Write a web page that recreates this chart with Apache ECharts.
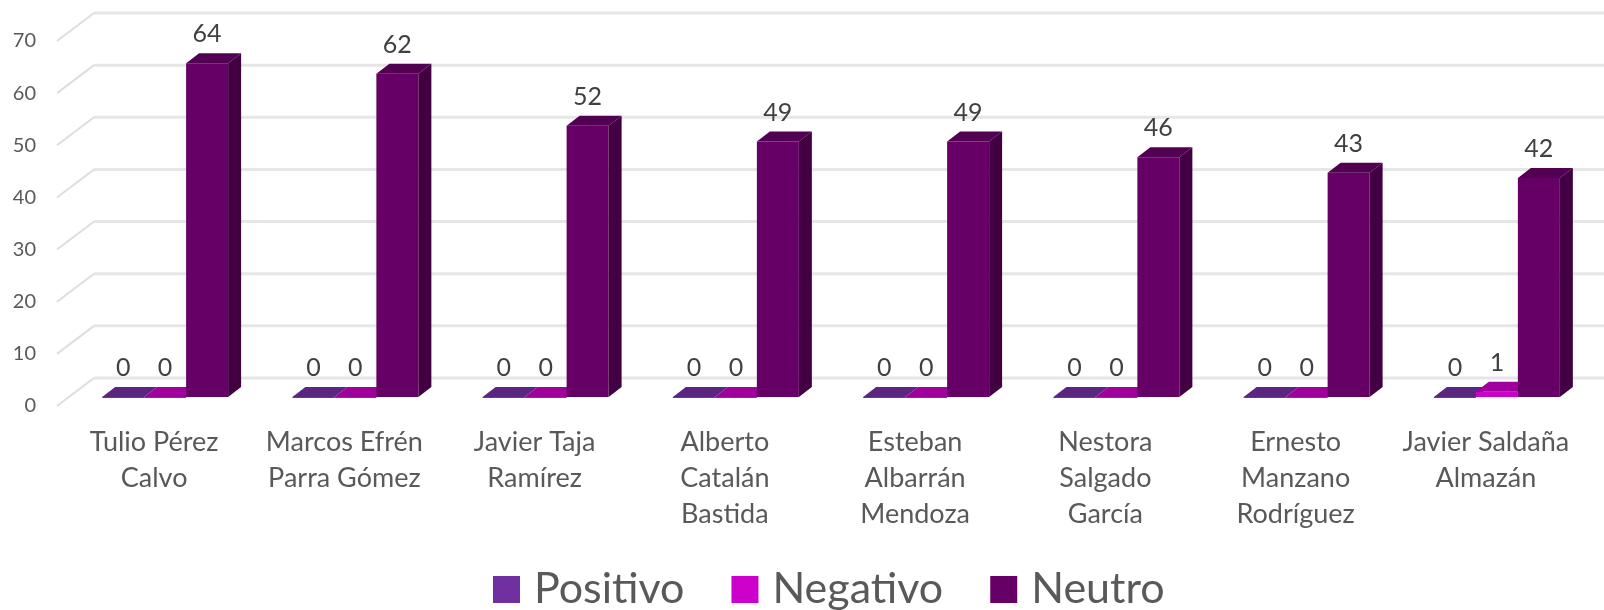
<!DOCTYPE html>
<html lang="es">
<head>
    <meta charset="UTF-8">
    <title>Positivo, Negativo, Neutro</title>
    <script src="https://cdn.jsdelivr.net/npm/echarts@6/dist/echarts.min.js"></script>
    <style>
        html, body { margin: 0; padding: 0; background: #fff; overflow: hidden; }
    </style>
</head>
<body>
<div id="box" style="width: 1604px;height: 610px;"></div>
<script>
    var categories = ['Tulio Pérez\nCalvo', 'Marcos Efrén\nParra Gómez', 'Javier Taja\nRamírez', 'Alberto\nCatalán\nBastida',
        'Esteban\nAlbarrán\nMendoza', 'Nestora\nSalgado\nGarcía', 'Ernesto\nManzano\nRodríguez', 'Javier Saldaña\nAlmazán'];
    var positivo = [0, 0, 0, 0, 0, 0, 0, 0];
    var negativo = [0, 0, 0, 0, 0, 0, 0, 1];
    var neutro = [64, 62, 52, 49, 49, 46, 43, 42];
    var yTicks = [0, 10, 20, 30, 40, 50, 60, 70];

    var fontName = 'Lato';
    var myChart = echarts.init(document.getElementById('box'));

    // fake 3D: bars stand a bit behind the axis plane, the wall further back
    var floorX = 11, floorY = -9;
    var depthX = 13, depthY = -10;
    var wallX = 37, wallY = -28;

    function wallLines(params, api) {
        var p = api.coord([0, api.value(0)]);
        var x0 = params.coordSys.x;
        return {
            type: 'group',
            children: [
                {type: 'line', shape: {x1: x0 - 2, y1: p[1], x2: x0 + wallX - 2, y2: p[1] + wallY},
                    style: {stroke: '#dedede', lineWidth: 2}},
                {type: 'line', shape: {x1: x0 + wallX - 2, y1: p[1] + wallY, x2: api.getWidth(), y2: p[1] + wallY},
                    style: {stroke: '#e6e6e6', lineWidth: 3}}
            ]
        };
    }

    function barRender(slot, colors) {
        return function (params, api) {
            var top = api.coord([api.value(0), api.value(1)]);
            var base = api.coord([api.value(0), 0]);
            var w = api.size([1, 0])[0] * 0.2207;
            var x1 = top[0] + floorX + slot * w - w / 2;
            var x2 = x1 + w;
            var yt = top[1] + floorY;
            var yb = base[1] + floorY;
            return {
                type: 'group',
                children: [
                    {type: 'rect', shape: {x: x1, y: yt, width: w, height: Math.max(yb - yt, 1)},
                        style: {fill: colors.front}},
                    {type: 'polygon', shape: {points: [[x1, yt], [x2, yt], [x2 + depthX, yt + depthY], [x1 + depthX, yt + depthY]]},
                        style: {fill: colors.top}},
                    {type: 'polygon', shape: {points: [[x2, yt], [x2 + depthX, yt + depthY], [x2 + depthX, yb + depthY], [x2, yb]]},
                        style: {fill: colors.side}},
                    {type: 'text', style: {text: String(api.value(1)), x: x1 + w / 2, y: yt - 29, align: 'center',
                        verticalAlign: 'middle', fill: '#404040', font: '25px ' + fontName}}
                ]
            };
        };
    }

    function toData(values) {
        return values.map(function (v, i) {
            return [i, v];
        });
    }

    function barSeries(name, values, slot, colors) {
        return {
            name: name,
            type: 'custom',
            coordinateSystem: 'cartesian2d',
            renderItem: barRender(slot, colors),
            encode: {x: 0, y: 1},
            itemStyle: {color: colors.front},
            data: toData(values),
            z: 3 + slot
        };
    }

    var option = {
        backgroundColor: '#fff',
        animation: false,
        legend: {
            data: ['Positivo', 'Negativo', 'Neutro'],
            left: 488,
            top: 563,
            icon: 'rect',
            itemWidth: 27,
            itemHeight: 27,
            itemGap: 47,
            textStyle: {fontFamily: fontName, fontSize: 43, color: '#595959', padding: [0, 0, 0, 9]}
        },
        grid: {left: 59, right: 23, top: 41, bottom: 204},
        xAxis: {
            type: 'category',
            data: categories,
            axisLine: {show: false},
            axisTick: {show: false},
            axisLabel: {interval: 0, margin: 18, fontFamily: fontName, fontSize: 27, lineHeight: 36, color: '#595959'}
        },
        yAxis: {
            type: 'value',
            min: 0,
            max: 70,
            interval: 10,
            splitLine: {show: false},
            axisLine: {show: false},
            axisTick: {show: false},
            axisLabel: {margin: 23, fontFamily: fontName, fontSize: 20, color: '#595959'}
        },
        series: [
            {
                type: 'custom',
                coordinateSystem: 'cartesian2d',
                renderItem: wallLines,
                encode: {y: 0},
                data: yTicks.map(function (v) { return [v]; }),
                silent: true,
                z: 1
            },
            barSeries('Positivo', positivo, -1, {front: '#7030a0', top: '#5a2680', side: '#4a1f6a'}),
            barSeries('Negativo', negativo, 0, {front: '#cc00cc', top: '#a0009c', side: '#880088'}),
            barSeries('Neutro', neutro, 1, {front: '#660066', top: '#520052', side: '#420042'})
        ]
    };
    myChart.setOption(option);
</script>
</body>
</html>
